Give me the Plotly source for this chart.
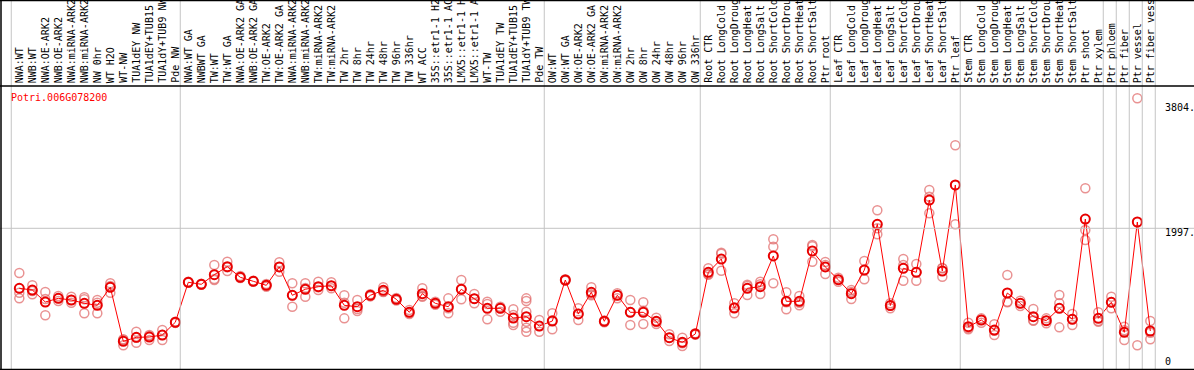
import plotly.graph_objects as go

title_text = "Potri.006G078200"

labels = [
    "NWA:WT", "NWB:WT", "NWA:OE-ARK2", "NWB:OE-ARK2", "NWA:miRNA-ARK2", "NWB:miRNA-ARK2",
    "NW 0hr", "WT H2O", "WT-NW", "TUA1dEY NW", "TUA1dEY+TUB15", "TUA1dY+TUB9 NW", "Pde NW",
    "NWA:WT GA", "NWBWT GA", "TW:WT", "TW:WT GA", "NWA:OE-ARK2 GA", "NWB:OE-ARK2 GA",
    "TW:OE-ARK2", "TW:OE-ARK2 GA", "NWA:miRNA-ARK2", "NWB:miRNA-ARK2", "TW:miRNA-ARK2",
    "TW:miRNA-ARK2", "TW 2hr", "TW 8hr", "TW 24hr", "TW 48hr", "TW 96hr", "TW 336hr",
    "WT ACC", "35S::etr1-1 H2", "35S::etr1-1 AC", "LMX5::etr1-1 H", "LMX5::etr1-1 A",
    "WT-TW", "TUA1dEY TW", "TUA1dEY+TUB15", "TUA1dY+TUB9 TW", "Pde TW",
    "OW:WT", "OW:WT GA", "OW:OE-ARK2", "OW:OE-ARK2 GA", "OW:miRNA-ARK2", "OW:miRNA-ARK2",
    "OW 2hr", "OW 8hr", "OW 24hr", "OW 48hr", "OW 96hr", "OW 336hr",
    "Root CTR", "Root LongCold", "Root LongDroug", "Root LongHeat", "Root LongSalt",
    "Root ShortCold", "Root ShortDrou", "Root ShortHeat", "Root ShortSalt", "Ptr root",
    "Leaf CTR", "Leaf LongCold", "Leaf LongDroug", "Leaf LongHeat", "Leaf LongSalt",
    "Leaf ShortCold", "Leaf ShortDrou", "Leaf ShortHeat", "Leaf ShortSalt", "Ptr leaf",
    "Stem CTR", "Stem LongCold", "Stem LongDroug", "Stem LongHeat", "Stem LongSalt",
    "Stem ShortCold", "Stem ShortDrou", "Stem ShortHeat", "Stem ShortSalt", "Ptr shoot",
    "Ptr xylem", "Ptr phloem", "Ptr fiber", "Ptr vessel", "Ptr fiber vess",
]

mean_vals = [
    1130, 1105, 932, 985, 961, 913, 884, 1144, 364, 422, 426, 455, 639,
    1217, 1188, 1327, 1442, 1289, 1231, 1173, 1438, 1029, 1116, 1153, 1168, 884, 864,
    1029, 1101, 971, 783, 1052, 913, 864, 1116, 980, 841, 841, 701, 720, 585, 657,
    1250, 759, 1072, 653, 1029, 783, 783, 653, 416, 350, 470,
    1361, 1553, 845, 1130, 1153, 1597, 942, 942, 1669, 1438,
    1254, 1052, 1394, 2055, 881, 1419, 1361, 2406, 1380, 2623,
    575, 672, 527, 1062, 913, 720, 662, 841, 682, 2131, 696,
    928, 494, 2088, 513,
]

rep_vals = [
    [1351, 1066, 985], [1173, 1091, 1043], [1077, 975, 740], [1019, 985, 946],
    [1009, 961, 922], [1000, 971, 769], [961, 922, 769], [1202, 1163, 1066],
    [393, 383, 306], [503, 416, 344], [455, 441, 383], [527, 455, 383], [630, 639, 648],
    [1210, 1217, 1224], [1180, 1188, 1196], [1467, 1264, 1250], [1514, 1433, 1380],
    [1308, 1289, 1279], [1225, 1231, 1240], [1192, 1173, 1153], [1506, 1438, 1370],
    [1202, 1029, 864], [1202, 1134, 1009], [1225, 1144, 1105], [1217, 1163, 1130],
    [1029, 922, 696], [961, 831, 802], [1045, 1029, 1013], [1144, 1081, 1077],
    [990, 971, 952], [816, 783, 759], [1130, 1019, 1009], [935, 913, 893],
    [985, 841, 769], [1250, 1124, 971], [1048, 980, 913], [936, 903, 682],
    [864, 841, 792], [827, 744, 633, 600], [985, 946, 792, 647, 561, 503],
    [672, 585, 503], [769, 668, 538],
    [1240, 1250, 1260], [841, 763, 672], [1144, 1043, 1029], [640, 653, 666],
    [1058, 1029, 985], [961, 788, 600], [928, 806, 614], [705, 643, 614],
    [465, 416, 368], [416, 335, 296], [480, 470, 460],
    [1419, 1337, 1327], [1644, 1630, 1384], [913, 855, 769], [1182, 1163, 1033],
    [1225, 1188, 1048], [1838, 1731, 1202], [1072, 928, 827], [1019, 922, 884],
    [1756, 1737, 1514], [1510, 1467, 1337],
    [1283, 1254, 1225], [1105, 1077, 975], [1524, 1399, 1260], [2257, 1997, 1910],
    [913, 879, 841], [1553, 1467, 1240], [1481, 1366, 1240], [2550, 2454, 2214],
    [1423, 1419, 1298], [3196, 2618, 2055],
    [633, 556, 538], [696, 672, 633], [610, 517, 455], [1322, 936, 928],
    [951, 913, 874], [831, 668, 662], [696, 662, 624], [1033, 913, 566],
    [759, 686, 600], [2575, 1972, 1828], [783, 657, 647],
    [1009, 932, 841], [575, 523, 383], [3875, 306], [657, 488, 393],
]

group_starts = [0, 13, 41, 53, 63, 73, 84, 85, 86, 87, 88]
ytick_vals = [0, 1997, 3804]
ytick_text = ["0", "1997.", "3804."]
grid_vals = [1997]

W, H = 1194, 370
FONT = "DejaVu Sans Mono"

def py(p):
    return (H - p) / H

x_idx = list(range(len(labels)))
rx, ry = [], []
for i, reps in enumerate(rep_vals):
    for v in reps:
        rx.append(i)
        ry.append(v)

fig = go.Figure()
fig.add_trace(go.Scatter(
    x=rx, y=ry, mode="markers",
    marker=dict(symbol="circle-open", size=9, color="rgba(225,110,110,0.75)", line=dict(width=1.5)),
    hoverinfo="skip", showlegend=False,
))
fig.add_trace(go.Scatter(
    x=x_idx, y=mean_vals, mode="lines+markers",
    line=dict(color="#ff0000", width=1),
    marker=dict(symbol="circle-open", size=9, color="#e80000", line=dict(width=2)),
    showlegend=False,
))

shapes = []
for g in group_starts:
    shapes.append(dict(type="line", xref="x", yref="paper", x0=g - 0.62, x1=g - 0.62,
                       y0=py(369), y1=1, line=dict(color="#c4c4c4", width=1)))
for gv in grid_vals:
    shapes.append(dict(type="line", xref="paper", yref="y", x0=0, x1=1, y0=gv, y1=gv,
                       line=dict(color="#c4c4c4", width=1)))
# frame lines
shapes.append(dict(type="line", xref="paper", yref="paper", x0=1 / W, x1=1 / W, y0=py(369.5), y1=1,
                   line=dict(color="black", width=1.5)))
for p in [0.5, 86, 369.5]:
    shapes.append(dict(type="line", xref="paper", yref="paper", x0=0, x1=1, y0=py(p), y1=py(p),
                       line=dict(color="black", width=1.5)))

annotations = []
for i, lab in enumerate(labels):
    annotations.append(dict(x=i, xref="x", y=py(84), yref="paper", text=lab, showarrow=False,
                            textangle=-90, xanchor="center", yanchor="bottom",
                            font=dict(family=FONT, size=10, color="black"), borderpad=0))
for v, t in zip(ytick_vals, ytick_text):
    annotations.append(dict(x=1163 / W, xref="paper", y=v, yref="y", text=t, showarrow=False,
                            xanchor="left", yanchor="middle", yshift=(5 if v == 0 else -4),
                            font=dict(family=FONT, size=10, color="black")))
annotations.append(dict(x=9 / W, xref="paper", y=py(97), yref="paper", text=title_text,
                        showarrow=False, xanchor="left", yanchor="middle",
                        font=dict(family=FONT, size=10, color="#ff0000")))

fig.update_layout(
    width=W, height=H, margin=dict(l=0, r=0, t=0, b=0),
    paper_bgcolor="white", plot_bgcolor="white",
    xaxis=dict(range=[-1.485, 90.36], domain=[0, 1], showgrid=False, zeroline=False,
               showticklabels=False, ticks="", showline=False, fixedrange=True),
    yaxis=dict(range=[-36, 4053], domain=[py(369), py(86)], showgrid=False, zeroline=False,
               showticklabels=False, ticks="", showline=False, fixedrange=True),
    shapes=shapes, annotations=annotations,
)

fig.write_html(
    "out.html",
    config={"displayModeBar": False},
    post_script="document.body.style.margin='0';document.body.style.overflow='hidden';",
)
